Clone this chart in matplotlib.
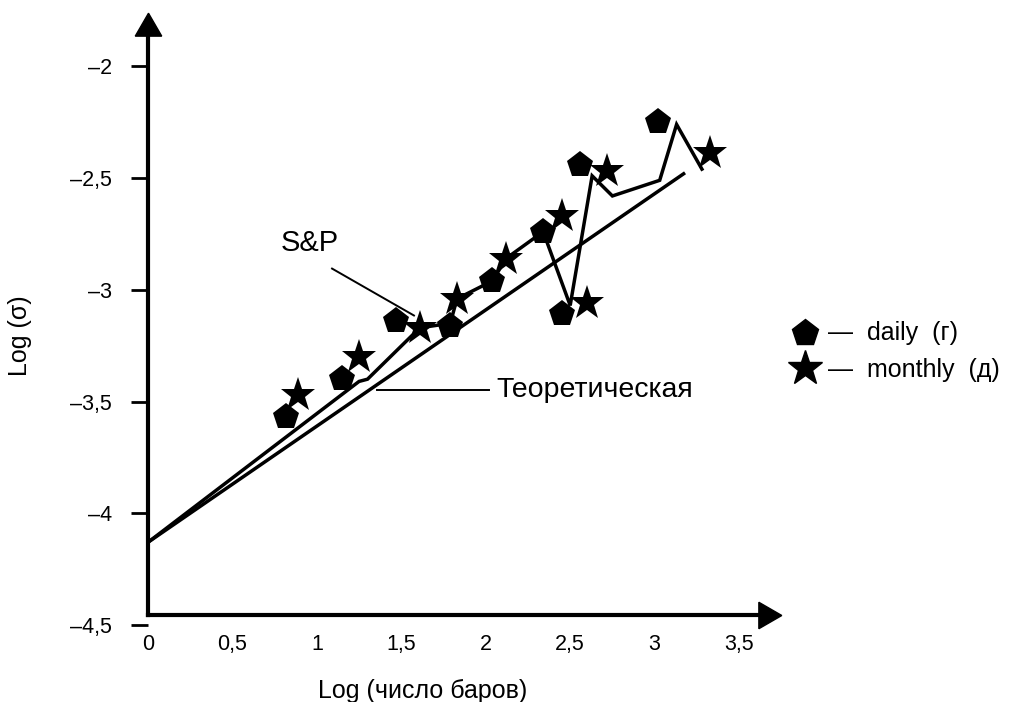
import matplotlib
matplotlib.use("Agg")
import matplotlib.pyplot as plt
import numpy as np

plt.rcParams['font.family'] = ['Liberation Sans', 'DejaVu Sans']

# log(number of bars) vs log(sigma)
daily_x = [0.82, 1.15, 1.47, 1.79, 2.04, 2.34, 2.45, 2.56, 3.02]
daily_y = [-3.57, -3.40, -3.14, -3.16, -2.96, -2.74, -3.11, -2.44, -2.25]

monthly_x = [0.89, 1.25, 1.61, 1.83, 2.12, 2.45, 2.60, 2.72, 3.33]
monthly_y = [-3.47, -3.30, -3.17, -3.04, -2.86, -2.67, -3.06, -2.47, -2.39]

sp_x = [0.0, 1.25, 1.30, 1.61, 1.79, 1.83, 2.04, 2.12, 2.34, 2.50, 2.63, 2.75, 3.03, 3.13, 3.28]
sp_y = [-4.13, -3.41, -3.40, -3.17, -3.15, -3.04, -2.96, -2.86, -2.74, -3.07, -2.49, -2.58, -2.51, -2.26, -2.46]

theory_x = [0.0, 3.18]
theory_y = [-4.13, -4.13 + 0.52 * 3.18]

xticks = [0, 0.5, 1, 1.5, 2, 2.5, 3, 3.5]
yticks = [-4.5, -4, -3.5, -3, -2.5, -2]


def comma(v):
    s = ('%g' % v).replace('.', ',')
    return s.replace('-', '\u2013')


fig = plt.figure(figsize=(10.12, 7.02), dpi=100)
ax = fig.add_axes([0.1462, 0.1097, 0.6225, 0.869])
ax.set_xlim(0, 3.73)
ax.set_ylim(-4.5, -1.77)

x_base = -4.455
ax.plot(theory_x, theory_y, color='k', lw=2.5, solid_capstyle='butt')
ax.plot(sp_x, sp_y, color='k', lw=2.5, solid_joinstyle='miter')
ax.plot(daily_x, daily_y, 'p', color='k', ms=20, mew=0)
ax.plot(monthly_x, monthly_y, '*', color='k', ms=26, mew=0)

# axes with arrow heads
for s in ['top', 'right']:
    ax.spines[s].set_visible(False)
ax.spines['left'].set_linewidth(3)
ax.spines['bottom'].set_linewidth(3)
ax.spines['bottom'].set_position(('data', x_base))
ax.spines['left'].set_bounds(x_base, -1.85)
ax.spines['bottom'].set_bounds(0, 3.62)
ax.plot(0, -1.83, marker=(3, 0, 0), color='k', ms=22, clip_on=False)
ax.plot(3.66, x_base, marker=(3, 0, -90), color='k', ms=22, clip_on=False)

ax.set_xticks(xticks)
ax.set_xticklabels([comma(v) for v in xticks], fontsize=15.5)
ax.set_yticks(yticks)
ax.set_yticklabels([comma(v) for v in yticks], fontsize=15.5)
ax.tick_params(axis='x', length=0, pad=14)
ax.tick_params(axis='y', length=12, width=2, pad=14)

ax.set_xlabel('Log (число баров)', fontsize=18)
ax.xaxis.set_label_coords(0.4365, -0.108)
ax.xaxis.label.set_va('center')
ax.set_ylabel('Log (σ)', fontsize=18)
ax.yaxis.set_label_coords(-0.203, 0.475)
ax.yaxis.label.set_va('center')

# S&P callout
ax.text(0.96, -2.79, 'S&P', fontsize=21, ha='center', va='center')
ax.plot([1.09, 1.575], [-2.905, -3.115], color='k', lw=1.4)
ax.plot([1.355, 2.02], [-3.45, -3.45], color='k', lw=1.4)
ax.text(2.065, -3.45, 'Теоретическая', fontsize=20.5, va='center', ha='left')

# legend drawn by hand to the right of the plot
leg_x = 805 / 1012
fig.text(828 / 1012, 1 - 333 / 702, '\u2014  daily  (г)', fontsize=18, va='center')
fig.text(828 / 1012, 1 - 370 / 702, '\u2014  monthly  (д)', fontsize=18, va='center')
fig.lines.append(plt.Line2D([leg_x], [1 - 333 / 702], marker='p', ms=20, color='k',
                            transform=fig.transFigure, figure=fig))
fig.lines.append(plt.Line2D([leg_x], [1 - 368 / 702], marker='*', ms=26, color='k',
                            transform=fig.transFigure, figure=fig))

fig.savefig('out.png', dpi=100)
